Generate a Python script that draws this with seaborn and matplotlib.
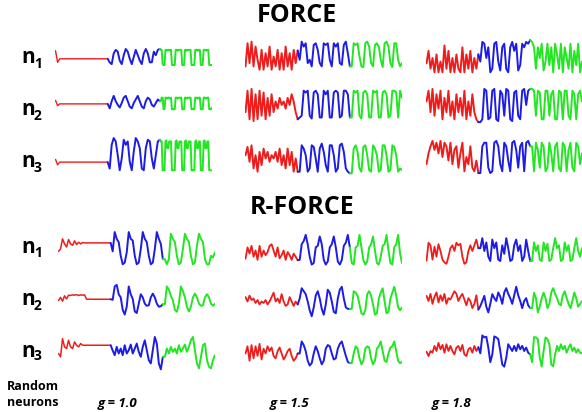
import numpy as np
import pandas as pd
import matplotlib
matplotlib.use("Agg")
import matplotlib.pyplot as plt
import seaborn as sns

sns.set_theme(style="white")
plt.rcParams['font.family'] = ['Open Sans', 'DejaVu Sans']
plt.rcParams['text.color'] = 'black'

# ---------------- data (0 = bottom of trace band, 10 = top) ----------------
# FORCE, g = 1.0
F10_N1_R = [8.5, 2, 4, 4, 4, 4, 4, 4, 4, 4, 4, 4, 4, 4, 4, 4, 4, 4, 4, 4, 4, 4, 4, 4, 4, 4]
F10_N1_B = [2, 1, 7, 9, 8, 3, 1, 6, 9.5, 8, 4, 1, 5, 9, 6, 3, 1, 7, 9.5, 7, 2, 2, 8, 6, 9, 9.5]
F10_N1_G = [9, 9, 1, 0.5, 0.5, 9, 9, 8.5, 9, 9, 8.5, 9, 0.5, 0.5, 0.5, 0.5, 9, 9, 8.5, 9, 9, 9, 9,
            0.5, 0.5, 0.5, 9, 9, 8.5, 9, 9, 9, 9, 0.5, 0.5, 0.5, 0.5, 9, 9, 9, 8.5, 9, 9,
            0.5, 0.5, 0.5, 9, 9, 9, 8.5, 9, 9, 0.5, 0.5, 0.5, 0.5]
F10_N2_R = [6.5, 3.5, 4.5, 4.5, 4.5, 4.5, 4.5, 4.5, 4.5, 4.5, 4.5, 4.5, 4.5, 4.5, 4.5, 4.5, 4.5, 4.5,
            4.5, 4.5, 4.5, 4.5, 4.5, 4.5, 4.5, 4.5]
F10_N2_B = [2, 6, 9, 6, 4, 2.5, 5, 8, 9, 6, 3, 2, 5, 7, 9, 6, 3, 2, 6, 8, 7, 4, 3, 5, 7, 6]
F10_N2_G = [6, 8, 8, 1.5, 1.5, 8, 8, 7.5, 8, 8, 7.5, 8, 1.5, 1.5, 1.5, 1.5, 8, 8, 7.5, 8, 8, 8, 8,
            1.5, 1.5, 1.5, 8, 8, 7.5, 8, 8, 8, 8, 1.5, 1.5, 1.5, 1.5, 8, 8, 8, 7.5, 8, 8,
            1.5, 1.5, 1.5, 8, 8, 8, 7.5, 8, 8, 1.5, 1.5, 1.5, 2.5]
F10_N3_R = [3.7, 2.1, 2.9, 2.9, 2.9, 2.9, 2.9, 2.9, 2.9, 2.9, 2.9, 2.9, 2.9, 2.9, 2.9, 2.9, 2.9, 2.9,
            2.9, 2.9, 2.9, 2.9, 2.9, 2.9, 2.9, 2.9]
F10_N3_B = [1, 8, 10, 9, 5, 0.5, 4, 9.5, 8, 9, 3, 0.5, 6, 10, 9, 7, 1, 0.5, 7, 9.5, 9, 4, 1, 5, 9, 9.5]
F10_N3_G = [9, 9, 0.5, 0.5, 0.5, 9, 9.3, 7, 7, 9, 9, 9, 0.5, 0.5, 0.5, 0.5, 9, 9.3, 7, 7, 9, 9, 9,
            0.5, 0.5, 0.5, 9, 9.3, 7, 7, 9, 9, 9, 0.5, 0.5, 0.5, 0.5, 9, 9.3, 7, 7, 9, 9,
            0.5, 0.5, 0.5, 9, 9.3, 7, 7, 9, 9, 0.5, 0.5, 0.5, 0.5]

# FORCE, g = 1.5
F15_N1_R = [2, 9, 3, 9.5, 2, 8, 4, 1, 7, 1, 6, 2, 8, 1, 5, 2, 7, 1, 6, 1, 8, 2, 6, 1, 7, 3, 6.8]
F15_N1_B = [4, 9.5, 8, 9, 3, 4, 2, 8.5, 9, 7, 3, 2, 9, 8.5, 9, 4, 2, 9, 8, 9, 3, 2.5, 8.5, 9.5, 6, 2]
F15_N1_G = [2, 9, 8.5, 9, 5, 2, 1.8, 9, 9.5, 8, 3, 2, 8.5, 9, 8, 4, 1.8, 9, 9.5, 8, 3, 1.8, 9, 9, 4, 2, 3]
F15_N2_R = [3, 9, 1, 9.5, 0.5, 8, 1, 9, 2, 8.5, 1, 7, 2, 8, 3, 6, 4, 7, 5, 6, 4, 7, 5, 8, 6, 3, 1]
F15_N2_B = [1.5, 2, 9, 8.5, 9, 2, 1.2, 8.5, 9, 8, 1.5, 1.5, 9, 8, 9, 1.5, 1.5, 8.5, 9, 8.5, 1.5, 2, 9, 9, 8, 1.5]
F15_N2_G = [1.5, 9, 8.5, 9, 2, 1.2, 8.5, 9, 8, 1.5, 1.5, 9, 8.5, 9, 1.5, 1.5, 8.5, 9, 8, 1.5, 2, 9, 9, 8.5, 1.5, 9, 7]
F15_N3_R = [6, 8.5, 4, 9, 2, 6, 1, 7, 3, 8, 5, 7, 4, 6, 5, 7, 4, 8, 3, 6, 2, 8, 3, 7, 1, 5, 1]
F15_N3_B = [1, 9, 8, 6, 1, 2, 9, 8.5, 5, 1, 8, 9.5, 7, 3, 1, 9, 9, 6, 1, 2, 9, 9.5, 7, 2, 1, 0.5]
F15_N3_G = [0.5, 8, 9, 7, 2, 1, 8.5, 9, 6, 1.5, 1, 9, 8, 6, 1, 1.5, 9, 9, 6, 1, 1.5, 9, 8.5, 6, 1, 2, 1.5]

# FORCE, g = 1.8
F18_N1_R = [3.5, 7, 2, 5, 1, 6, 1, 4, 1, 8.5, 2, 7, 1, 5, 1, 6, 2, 1, 8, 1, 6, 2, 7, 1, 5, 2, 6]
F18_N1_B = [4, 9.5, 9, 5, 8, 1, 2, 9, 9.5, 4, 1.5, 8, 9, 2, 1, 8, 9.5, 7, 9, 1.5, 3, 9, 8, 9.5, 9, 10]
F18_N1_G = [9.5, 8, 2, 8, 5, 9, 1.5, 4, 9, 3, 8, 1, 9, 6, 2, 9, 1, 8, 5, 2, 9, 1, 7, 3, 9, 1, 4]
F18_N2_R = [6, 9, 3, 9.5, 2, 8, 4, 9, 1, 7, 3, 9, 2, 6, 1, 8, 3, 7, 2, 9, 1, 6, 2, 8, 3, 1, 0.2]
F18_N2_B = [0.2, 1, 9.5, 9, 1, 1.5, 9, 9.5, 1, 0.5, 9, 8, 2, 9.5, 9, 1, 0.5, 8.5, 9, 2, 1, 9, 9.5, 5, 9, 9.5]
F18_N2_G = [9.5, 9, 2, 9, 8.5, 1, 1, 9, 9, 2, 8, 9, 1, 1, 9, 8.5, 1, 9, 9, 2, 1, 9, 8, 1, 8, 9, 6]
F18_N3_R = [3, 6, 8, 9.5, 7, 9, 6, 9.5, 5, 9, 8, 4, 9, 3, 7, 8, 2, 6, 9, 1, 5, 3, 8, 2, 1, 4, 0.5]
F18_N3_B = [0.5, 8, 9, 9, 2, 0.5, 1, 9, 9.5, 8, 3, 1, 9, 8, 4, 1, 9, 9.5, 7, 2, 8, 9, 1, 9, 9.5, 8]
F18_N3_G = [8, 1, 9, 7, 2, 9, 8, 1, 2, 9, 6, 1, 8, 9, 2, 1, 9, 8, 1, 7, 9, 2, 1, 9, 8, 3, 6]

# R-FORCE, g = 1.0
R10_N1_R = [4.3, 5, 8, 6.5, 5.6, 7.8, 6.5, 6.1, 7.4, 6.3, 7, 6.5, 6.9, 6.8, 6.8, 6.8, 6.8, 6.8, 6.8,
            6.8, 6.8, 6.8, 6.8, 6.8, 6.8, 6.8, 6.8]
R10_N1_B = [4.3, 10, 8, 7, 3, 0.5, 1, 4, 10, 8, 7.5, 3, 0.5, 1, 5, 10, 8, 7, 3, 0.5, 1, 5, 10, 8, 6.5, 2]
R10_N1_G = [2, 0.5, 2, 9.5, 8, 7, 3, 0.5, 1, 5, 9.5, 8, 7, 3, 0.5, 1, 6, 9.5, 8, 7, 2, 0.5, 0.5, 3, 2.5, 4]
R10_N2_R = [5, 6, 4.8, 6.5, 5.5, 6.7, 6.6, 6.8, 6.7, 6.9, 6.6, 6.8, 6.7, 6.8, 5.4, 5.4, 5.4, 5.4, 5.4,
            5.4, 5.4, 5.4, 5.4, 5.4, 5.4, 5.4, 5.4]
R10_N2_B = [5.2, 9.5, 10, 7, 6, 2, 0.5, 3, 9.5, 7, 5.5, 1.5, 1, 4, 7, 6, 4, 3.3, 3.5, 6, 7.2, 6, 4, 3, 3.2, 3.8]
R10_N2_G = [3.8, 9.5, 8.5, 6.5, 5, 2, 1.4, 4, 9.5, 8, 6, 3, 1.5, 3, 6, 7.2, 6, 4, 3.3, 3.5, 6, 7, 6, 4, 3.3, 4]
R10_N3_R = [5, 4, 9.5, 7, 6.5, 9, 7, 6.5, 8.5, 7.5, 7, 8, 7.5, 7.5, 7.5, 7.5, 7.5, 7.5, 7.5, 7.5,
            7.5, 7.5, 7.5, 7.5, 7.5, 7.5, 7.5]
R10_N3_B = [5.9, 4.5, 7, 5, 6.5, 4.5, 7.5, 5, 6, 7.7, 5, 6.5, 8, 5.5, 4, 7, 9, 6, 3, 2, 6, 10, 8, 2, 0.2, 4]
R10_N3_G = [4, 6.5, 5, 7, 5.5, 6.5, 5, 7.5, 5.5, 6.5, 7.7, 5.5, 7, 9, 10, 6, 2, 0.5, 4, 7.5, 8, 3, 1, 0.5, 3, 4.5]

# R-FORCE, g = 1.5
R15_N1_R = [2.4, 6, 4, 6.5, 3, 5, 2, 6.5, 3, 5, 3.5, 4.5, 6.5, 7, 5, 3, 6, 2.5, 3.5, 5, 2, 4.5, 3.5, 2, 4, 3, 1.9]
R15_N1_B = [2, 7, 8, 10, 7, 3, 0.5, 1, 6, 6.5, 9.5, 7, 2, 0.5, 1.5, 6, 7, 9.5, 6, 1.5, 0.5, 2, 6.5, 7.5, 10, 6]
R15_N1_G = [1, 0.5, 6, 6.5, 10, 6, 2, 0.5, 1.5, 6, 7, 9.5, 5, 1, 0.5, 3, 6.5, 7, 10, 5, 1, 0.5, 6, 7, 10, 4, 1]
R15_N2_R = [6.5, 5, 7, 5.5, 6, 4.5, 5.5, 4, 5, 4.5, 5.5, 4, 5, 6.5, 8, 5, 6, 4.5, 7.5, 5, 3.5, 4, 6.5, 5, 3.5, 5, 4]
R15_N2_B = [6, 9.5, 8.5, 7.5, 5, 2, 0, 3, 7, 8.5, 6, 2.5, 0.5, 4, 9, 8, 5, 1.5, 1, 6, 9, 10, 6, 3, 2.5, 2.5]
R15_N2_G = [2.5, 8.5, 8, 7, 4, 1, 0.5, 2, 7.5, 8.5, 7, 4, 0.5, 1, 6, 8, 9.5, 5, 1, 1.5, 6, 8, 10, 7, 3, 2, 3]
R15_N3_R = [5, 8, 2, 8.5, 3, 8, 4, 9, 2.5, 7, 5, 8, 6, 7.5, 4, 3, 6, 7.5, 5, 2.5, 4, 6, 7, 4, 2, 3, 5]
R15_N3_B = [5, 10, 8.5, 6, 2, 0, 1, 5, 8, 6, 3, 0.5, 2, 7, 8.5, 8, 5, 2.5, 3, 7, 9, 10, 7, 4, 1.5, 1]
R15_N3_G = [1, 5, 8, 7, 3, 0.5, 2, 7, 8, 7.5, 3, 0.5, 2, 7, 8, 10, 6, 2, 1.5, 5, 7.5, 8, 10, 6, 2, 1, 1.5]

# R-FORCE, g = 1.8
R18_N1_R = [1.6, 7.9, 7, 2, 6.5, 3, 7.4, 5, 2, 1, 0.5, 3, 6, 7, 5, 7.9, 7, 7.5, 3, 0.5, 1, 5, 7, 5, 7, 9, 6]
R18_N1_B = [6, 9.5, 5, 8, 3, 1.5, 9, 6, 8, 2, 1.5, 7, 4, 9.5, 6, 1.5, 2, 7, 9, 5, 7, 1.5, 3, 9, 5, 1.5]
R18_N1_G = [1.5, 8, 5, 7, 2, 1.5, 8, 5, 7.5, 1.5, 2, 6, 9.5, 6, 7, 1.5, 2, 8, 5, 7, 1.5, 2, 6, 9.5, 5, 3, 6]
R18_N2_R = [6.8, 5, 7.5, 4, 6.5, 8, 4.5, 7, 5, 7.5, 4, 6, 5.5, 7, 8.4, 7.5, 5, 6.5, 7.5, 5.5, 3.5, 6, 5, 2.5, 4, 7, 2]
R18_N2_B = [3.2, 5, 6.8, 3, 1, 4, 7.4, 6, 5, 8, 6.5, 4, 8, 9.5, 7.5, 6, 4, 7, 10, 7, 5, 2.5, 5, 6, 3.5, 2.5]
R18_N2_G = [2.5, 7.9, 6, 1, 3, 6, 7.9, 6, 2.5, 4, 8, 9.5, 7.5, 6, 4, 3.5, 7, 8.4, 6, 4, 2.5, 5, 8, 6, 3, 4, 5]
R18_N3_R = [4.8, 3.5, 5, 4.5, 6.5, 5, 7.4, 5.5, 6.8, 4.5, 7, 5, 6.5, 5, 4, 6, 6.5, 5, 6.8, 4, 3.5, 5.5, 6, 4.5, 6.5, 5, 6.1]
R18_N3_B = [4.3, 9.6, 9, 9.2, 6, 1.7, 4, 9.3, 9, 8.5, 5, 1, 0.4, 3, 7, 6, 5, 6.5, 5, 7, 5.5, 6.5, 5, 6, 4.5, 4]
R18_N3_G = [1.7, 9.1, 9, 8.5, 3, 0.4, 5, 9, 8.5, 7, 1, 0.5, 4, 6.5, 5, 7, 5.5, 6.5, 4.5, 6, 7, 5, 6, 4.5, 5.5, 4.5, 4.3]

ROW_LABELS = ["1", "2", "3"]
G_LABELS = ["g = 1.0", "g = 1.5", "g = 1.8"]
TITLES = ["FORCE", "R-FORCE"]

# ---------------- layout (pixels) ----------------
W, H = 582, 412
fig = plt.figure(figsize=(W / 100, H / 100), dpi=100)
fig.patch.set_facecolor("white")

RED, BLUE, GREEN = "#f01c1c", "#1c1ce6", "#22e622"

panels = [
    # (x0, x1, ytop, ybot), red line width, data
    ((55, 212, 47, 67), 1.0, F10_N1_R, F10_N1_B, F10_N1_G),
    ((55, 212, 93, 113), 1.0, F10_N2_R, F10_N2_B, F10_N2_G),
    ((55, 212, 136, 174), 1.0, F10_N3_R, F10_N3_B, F10_N3_G),
    ((245, 402, 38, 75), 1.4, F15_N1_R, F15_N1_B, F15_N1_G),
    ((245, 402, 85, 125), 1.4, F15_N2_R, F15_N2_B, F15_N2_G),
    ((245, 402, 140, 177), 1.4, F15_N3_R, F15_N3_B, F15_N3_G),
    ((426, 582, 38, 78), 1.4, F18_N1_R, F18_N1_B, F18_N1_G),
    ((426, 582, 85, 125), 1.4, F18_N2_R, F18_N2_B, F18_N2_G),
    ((426, 582, 137, 177), 1.4, F18_N3_R, F18_N3_B, F18_N3_G),
    ((58, 215, 230, 268), 1.1, R10_N1_R, R10_N1_B, R10_N1_G),
    ((58, 215, 283, 318), 1.1, R10_N2_R, R10_N2_B, R10_N2_G),
    ((58, 215, 335, 372), 1.1, R10_N3_R, R10_N3_B, R10_N3_G),
    ((245, 402, 233, 268), 1.3, R15_N1_R, R15_N1_B, R15_N1_G),
    ((245, 402, 285, 318), 1.3, R15_N2_R, R15_N2_B, R15_N2_G),
    ((245, 402, 340, 367), 1.3, R15_N3_R, R15_N3_B, R15_N3_G),
    ((426, 582, 235, 267), 1.3, R18_N1_R, R18_N1_B, R18_N1_G),
    ((426, 582, 285, 317), 1.3, R18_N2_R, R18_N2_B, R18_N2_G),
    ((426, 582, 332, 370), 1.3, R18_N3_R, R18_N3_B, R18_N3_G),
]


def add_px_axes(x0, x1, yt, yb):
    return fig.add_axes([x0 / W, 1 - yb / H, (x1 - x0) / W, (yb - yt) / H])


for (x0, x1, yt, yb), rlw, red, blue, green in panels:
    ax = add_px_axes(x0, x1, yt, yb)
    xr = np.linspace(0, 1, len(red))
    xb = np.concatenate([[1.0], np.linspace(1, 2, len(blue) + 1)[1:]])
    yb_ = [red[-1]] + list(blue)
    xg = np.concatenate([[2.0], np.linspace(2, 3, len(green) + 1)[1:]])
    yg_ = [blue[-1]] + list(green)
    for xs, ys, c, lw in ((xr, red, RED, rlw), (xb, yb_, BLUE, 1.4), (xg, yg_, GREEN, 1.4)):
        df = pd.DataFrame({"t": xs, "v": ys})
        sns.lineplot(data=df, x="t", y="v", ax=ax, color=c, linewidth=lw,
                     estimator=None, sort=False, legend=False)
    ax.set_xlim(-0.01, 3.0)
    ax.set_ylim(-0.6, 10.6)
    ax.set_axis_off()


def px(x, y):
    return x / W, 1 - y / H


# titles
fig.text(*px(297, 16), TITLES[0], ha="center", va="center", fontsize=18, fontweight="bold")
fig.text(*px(302, 208), TITLES[1], ha="center", va="center", fontsize=18, fontweight="bold")

# row labels n_i
label_baselines = [(63, 68), (115, 120), (167, 172), (253, 257), (305, 310), (357, 360)]
for i, (bn, bs) in enumerate(label_baselines):
    fig.text(*px(21, bn), "n", ha="left", va="baseline", fontsize=15, fontweight="bold")
    fig.text(*px(34, bs), ROW_LABELS[i % 3], ha="left", va="baseline", fontsize=10, fontweight="bold")

# bottom labels
fig.text(*px(7, 390), "Random", ha="left", va="baseline", fontsize=9, fontweight="bold")
fig.text(*px(7, 406), "neurons", ha="left", va="baseline", fontsize=9, fontweight="bold")
for xc, lab in zip([118, 290, 452], G_LABELS):
    fig.text(*px(xc, 407), lab, ha="center", va="baseline", fontsize=9.5,
             fontweight="bold", fontstyle="italic")

fig.savefig("out.png", dpi=100, facecolor="white")
